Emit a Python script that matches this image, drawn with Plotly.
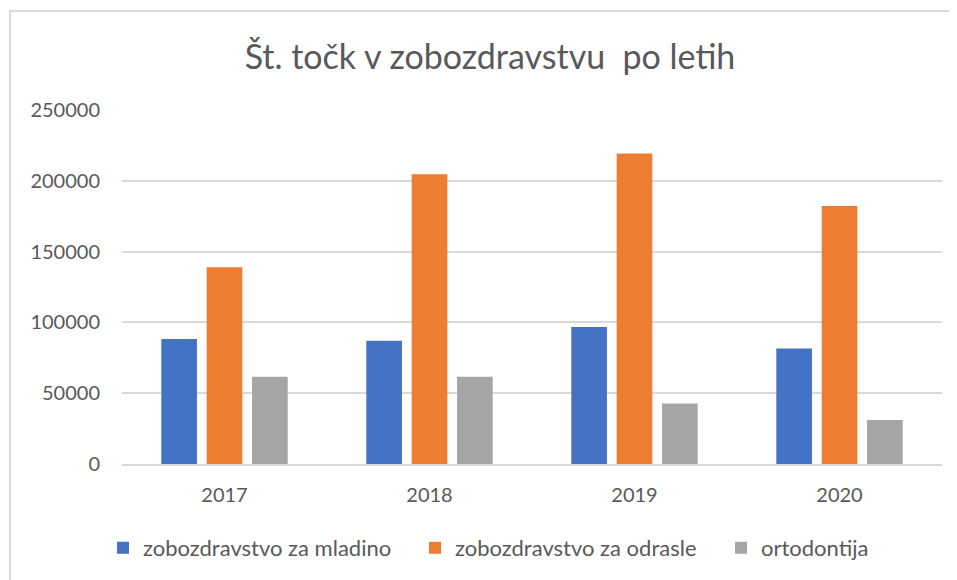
import plotly.graph_objects as go

years = ["2017", "2018", "2019", "2020"]
series_names = ["zobozdravstvo za mladino", "zobozdravstvo za odrasle", "ortodontija"]
mladino = [88200, 87000, 96800, 81500]
odrasle = [138900, 204700, 219300, 182200]
ortodontija = [61600, 61600, 42700, 31000]
colors = ["#4472C4", "#ED7D31", "#A5A5A5"]
y_ticks = [0, 50000, 100000, 150000, 200000, 250000]

W, H = 957, 580
OFF = 8  # page body margin offset
L, R, T, B = 122 - OFF, 15 + OFF, 110 - OFF, 116 + OFF
pw, ph = W - L - R, H - T - B

legend_ids = ["legend", "legend2", "legend3"]
legend_marker_x = [118, 430, 736]

fig = go.Figure()
for name, vals, c, lid in zip(series_names, [mladino, odrasle, ortodontija], colors, legend_ids):
    fig.add_trace(go.Bar(x=years, y=vals, name=name, legend=lid,
                         marker=dict(color=c, line=dict(width=0))))

legend_common = dict(orientation="h", xanchor="left", yanchor="middle",
                     y=-(548 - 464) / ph, font=dict(size=22, color="#595959"),
                     itemwidth=30, bgcolor="rgba(0,0,0,0)")
legends = {}
for lid, mx in zip(legend_ids, legend_marker_x):
    legends[lid] = dict(legend_common, x=(mx - 15 - 122) / pw)

fig.update_layout(
    width=W, height=H,
    margin=dict(l=L, r=R, t=T, b=B),
    paper_bgcolor="white", plot_bgcolor="white",
    font=dict(family="Lato, 'Open Sans', sans-serif", color="#595959", size=20),
    title=dict(text="Št. točk v zobozdravstvu  po letih", x=(490 - OFF) / W, xanchor="center",
               y=1 - (57 - OFF) / H, yanchor="middle",
               font=dict(size=34, color="#595959", family="Lato, 'Open Sans', sans-serif")),
    barmode="group", bargap=0.336, bargroupgap=0.214,
    showlegend=True,
    xaxis=dict(showgrid=False, showline=True, linecolor="#d9d9d9", linewidth=1.5,
               ticks="", tickfont=dict(size=20, color="#595959"), ticklabelstandoff=12),
    yaxis=dict(range=[0, 250000], tickvals=y_ticks, ticktext=[str(v) for v in y_ticks],
               showgrid=True, gridcolor="#d9d9d9", gridwidth=1.5, zeroline=False,
               showline=False, ticks="", tickfont=dict(size=20, color="#595959"),
               ticklabelstandoff=21),
    shapes=[dict(type="rect", xref="paper", yref="paper",
                 x0=(10 - 122) / pw, x1=1.2, y0=-0.5, y1=(464 - 11) / ph,
                 line=dict(color="#d9d9d9", width=2), fillcolor="rgba(0,0,0,0)", layer="below")],
    **legends,
)

fig.write_html("out.html")
